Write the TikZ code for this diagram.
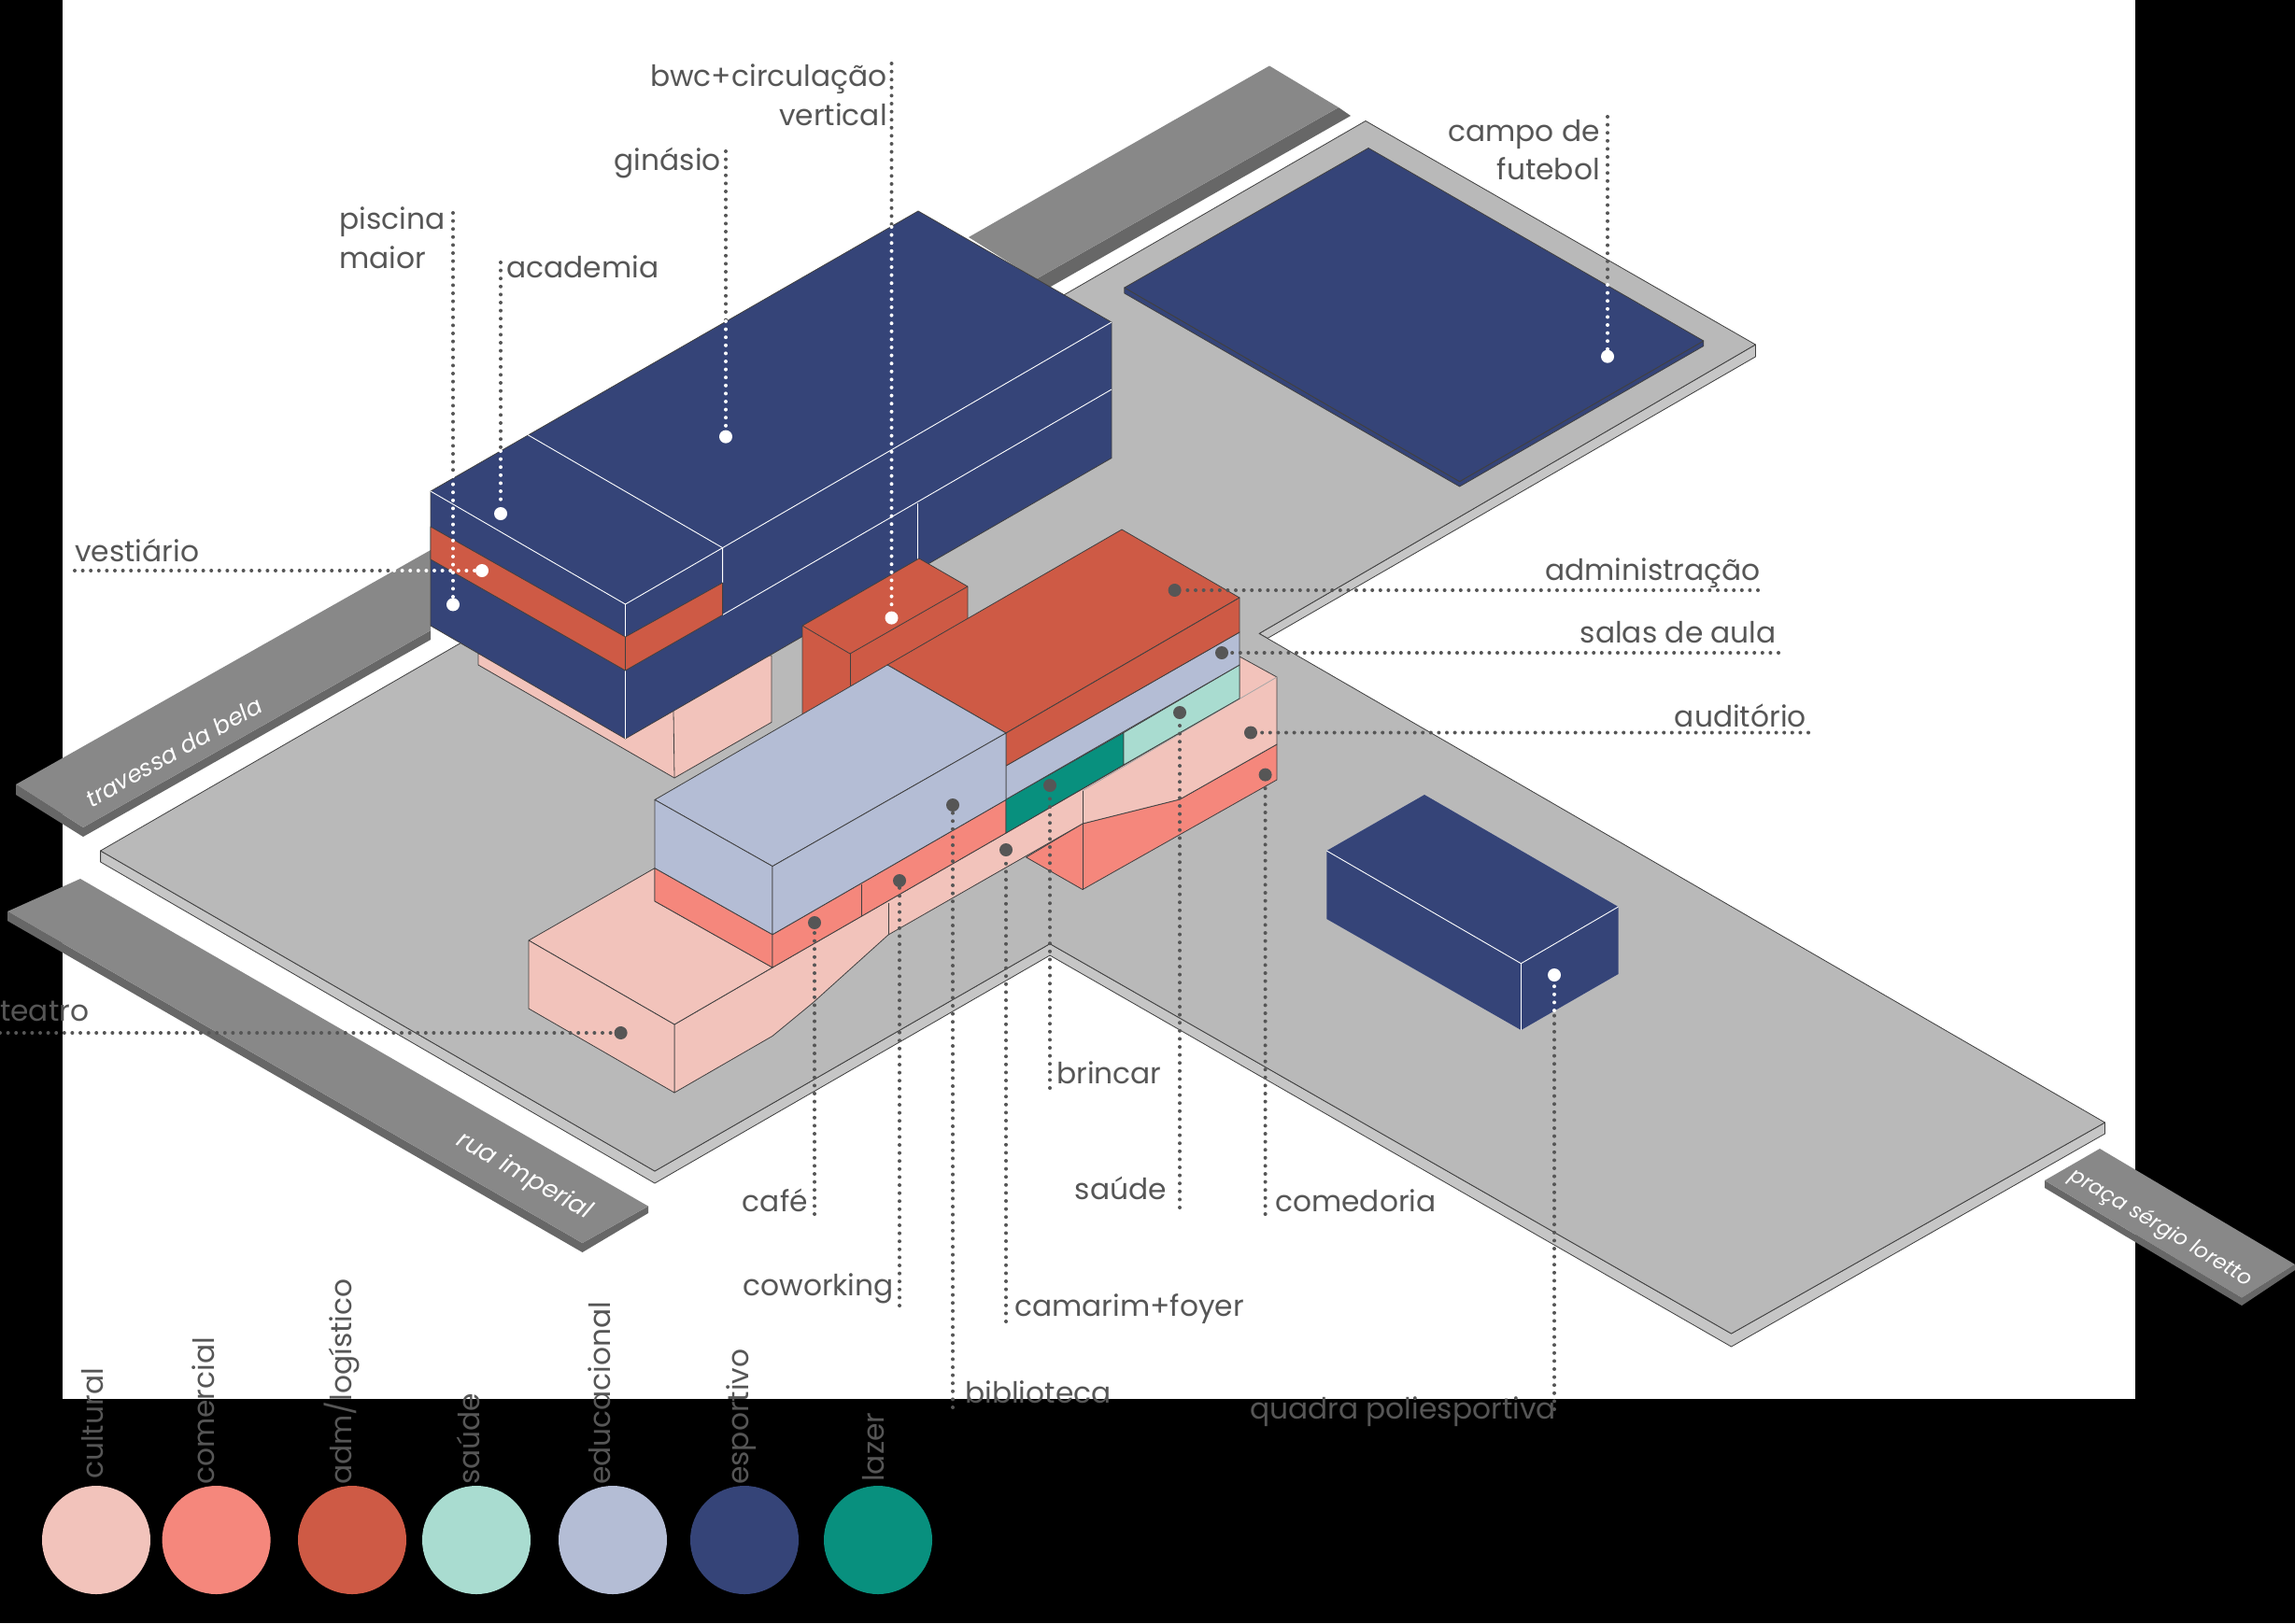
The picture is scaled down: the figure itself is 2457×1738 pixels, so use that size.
\documentclass[tikz,border=0pt]{standalone}
\usepackage{fontspec}
\setmainfont{Poppins}
\usetikzlibrary{positioning,calc}

\definecolor{navy}{HTML}{354478}
\definecolor{tijolo}{HTML}{CE5A45}
\definecolor{salmao}{HTML}{F5877C}
\definecolor{rosa}{HTML}{F2C3BB}
\definecolor{lilas}{HTML}{B4BDD5}
\definecolor{teal}{HTML}{08907E}
\definecolor{menta}{HTML}{A9DCD0}
\definecolor{piso}{HTML}{B9B9B9}
\definecolor{pisolado}{HTML}{C6C6C6}
\definecolor{via}{HTML}{888888}
\definecolor{vialado}{HTML}{676767}
\definecolor{texto}{HTML}{565656}

\begin{document}
\begin{tikzpicture}[
      x=1pt, y=-1pt,
      face/.style={draw=black!75,line width=0.8pt,line join=round},
      fio/.style={white,line width=0.9pt},
      lbl/.style={font=\fontsize{31.3}{38}\selectfont,text=texto,inner sep=0pt,align=left},
      lblr/.style={lbl,align=right},
      rualbl/.style={font=\fontsize{25}{30}\selectfont\itshape,text=white,inner sep=0pt},
      lead/.style={texto,line width=4pt,line cap=round,dash pattern=on 0pt off 8.6pt},
      leadw/.style={lead,white},
      pin/.style={circle,fill=texto,minimum size=14pt,inner sep=0pt},
      pinw/.style={pin,fill=white},
      leg/.style={circle,minimum size=116pt,inner sep=0pt},
    ]
    \useasboundingbox (0,0) rectangle (2457,1738);
    \fill[black] (0,0) rectangle (2457,1738);
    \fill[white] (67,0) rectangle (2286,1498);

    % vias
    \fill[vialado] (17,840) -- (89,886) -- (461,675) -- (461,685) -- (89,896) -- (17,851) -- cycle;
    \fill[via] (17,840) -- (461,589) -- (461,675) -- (89,886) -- cycle;
    \fill[vialado] (1433,115) -- (1446,124) -- (1123,308) -- (1109,299) -- cycle;
    \fill[via] (1037,254) -- (1359,70.5) -- (1433,115) -- (1109,299) -- cycle;
    \fill[vialado] (8,976) -- (623.5,1331) -- (694,1291.6) -- (694,1299) -- (623.5,1341) -- (8,986) -- cycle;
    \fill[via] (86,941) -- (694,1291.6) -- (623.5,1331) -- (8,976) -- cycle;
    \fill[vialado] (2189,1264) -- (2400,1390) -- (2457,1354) -- (2457,1360) -- (2400,1398) -- (2189,1272) -- cycle;
    \fill[via] (2248,1230) -- (2457,1354) -- (2400,1390) -- (2189,1264) -- cycle;
    \node[rualbl,rotate=29.5] (travessa) at (186,805) {travessa da bela};
    \node[rualbl,rotate=-30,font=\fontsize{26.5}{30}\selectfont\itshape] (imperial) at (561,1260) {rua imperial};
    \node[rualbl,rotate=-31,font=\fontsize{22.5}{28}\selectfont\itshape] (praca) at (2313,1315) {praça sérgio loretto};

    % terreno
    \filldraw[face,fill=pisolado] (107.6,911) -- (107.6,923) -- (701,1267) -- (1124,1023) -- (1853.5,1442) -- (2253.5,1214) -- (2253.5,1202) -- (1853.5,1428) -- (1124,1010.6) -- (701,1254) -- cycle;
    \filldraw[face,fill=pisolado] (1879.4,369) -- (1879.4,382) -- (1357,683.5) -- (1348,678.4) -- cycle;
    \filldraw[face,fill=piso] (107.6,911) -- (1462,129.5) -- (1879.4,369) -- (1348,678.4) -- (2253.5,1202) -- (1853.5,1428) -- (1124,1010.6) -- (701,1254) -- cycle;

    % campo de futebol
    \filldraw[face,fill=navy] (1203.8,308) -- (1203.8,314) -- (1562.6,521) -- (1823.8,370.5) -- (1823.8,365) -- (1562.6,515.6) -- cycle;
    \filldraw[face,fill=navy] (1203.8,308) -- (1465,158.5) -- (1823.8,365) -- (1562.6,515.6) -- cycle;

    % quadra
    \fill[navy] (1420.3,911) -- (1525,851) -- (1732.5,971) -- (1732.5,1043) -- (1628.4,1103) -- (1420.3,984) -- cycle;
    \draw[fio] (1420.3,911) -- (1628.4,1031.7) -- (1732.5,971);
    \draw[fio] (1628.4,1031.7) -- (1628.4,1103);

    % bloco esportivo
    \filldraw[face,fill=rosa] (512,700) -- (512,712) -- (722,833) -- (826,773.4) -- (826,702) -- cycle;
    \draw[face] (721,761) -- (722,833);
    \filldraw[face,fill=navy] (461,526) -- (983,226) -- (1190,345) -- (1190,490.5) -- (669.5,791) -- (461,670) -- cycle;
    \draw[fio] (461,526) -- (669.5,647) -- (773.6,586.6) -- (1190,345);
    \draw[fio] (565,465.6) -- (773.6,586.6) -- (773.6,624);
    \draw[fio] (773.6,658.5) -- (1190,417);
    \draw[fio] (669.5,647) -- (669.5,682);
    \draw[fio] (669.5,718) -- (669.5,791);
    \draw[fio] (982,539) -- (982,599);
    \filldraw[face,fill=tijolo] (461,564) -- (669.5,682) -- (773.6,624) -- (773.6,658.5) -- (669.5,718) -- (461,599) -- cycle;
    \draw[face] (669.5,682) -- (669.5,718);

    % torre
    \filldraw[face,fill=tijolo] (859,670) -- (984,598) -- (1036,628) -- (1036,680) -- (859,800) -- cycle;
    \draw[face] (859,670) -- (910,700) -- (1036,628);
    \draw[face] (910,700) -- (910,770);

    % auditorio e teatro
    \filldraw[face,fill=salmao] (1367,797) -- (1367,835) -- (1159,952.5) -- (1098.6,918) -- (1159,882) -- (1263,856) -- cycle;
    \filldraw[face,fill=rosa] (1327,703) -- (1367,725) -- (1367,797) -- (1263,856) -- (1159,882) -- (951,1001) -- (870,1074) -- (827,1109.4) -- (722,1170) -- (722,1097) -- (827,1036) -- (1077,892) -- (1327,748) -- cycle;
    \draw[black!35,line width=0.8pt] (1367,725) -- (1159,846.6);
    \draw[face] (1159,846.6) -- (1159,952.5);
    \draw[face] (951,967) -- (951,1001);
    \filldraw[face,fill=rosa] (566,1007) -- (701,929.6) -- (701,965) -- (827,1036) -- (722,1097) -- cycle;
    \filldraw[face,fill=rosa] (566,1007) -- (722,1097) -- (722,1170) -- (566,1080) -- cycle;

    % faixas
    \filldraw[face,fill=salmao] (701,929.6) -- (827,1000.7) -- (827,1036) -- (701,965) -- cycle;
    \filldraw[face,fill=salmao] (827,1000.7) -- (1077,856.4) -- (1077,892) -- (827,1036) -- cycle;
    \draw[face] (922,947) -- (922,981);
    \filldraw[face,fill=teal] (1077,856) -- (1203,784.5) -- (1203,819) -- (1077,892) -- cycle;
    \filldraw[face,fill=menta] (1203,784.5) -- (1327,712) -- (1327,748) -- (1203,819) -- cycle;
    \filldraw[face,fill=lilas] (1077,820) -- (1327,677) -- (1327,712) -- (1077,856) -- cycle;
    \filldraw[face,fill=tijolo] (950,712) -- (1201,567) -- (1327,640) -- (1077,785) -- cycle;
    \filldraw[face,fill=tijolo] (1077,785) -- (1327,640) -- (1327,677) -- (1077,820) -- cycle;
    \filldraw[face,fill=lilas] (701,856.4) -- (950,712) -- (1077,785) -- (827,927.6) -- cycle;
    \filldraw[face,fill=lilas] (701,856.4) -- (827,927.6) -- (827,1000.7) -- (701,929.6) -- cycle;
    \filldraw[face,fill=lilas] (827,927.6) -- (1077,785) -- (1077,856.4) -- (827,1000.7) -- cycle;

    % pontos
    \node[pinw] (pscn) at (485,647.4) {};
    \node[pinw] (vest) at (516,611) {};
    \node[pinw] (acad) at (536,550) {};
    \node[pinw] (gins) at (777,467.6) {};
    \node[pinw] (bwc) at (954.5,661.6) {};
    \node[pinw] (camp) at (1721,381.7) {};
    \node[pinw] (quad) at (1664,1044) {};
    \node[pin] (teat) at (664.6,1106) {};
    \node[pin] (cafe) at (872,988) {};
    \node[pin] (cowk) at (963,943) {};
    \node[pin] (cama) at (1077,910) {};
    \node[pin] (bibl) at (1020,862) {};
    \node[pin] (brin) at (1124,841) {};
    \node[pin] (saud) at (1263,763) {};
    \node[pin] (audi) at (1339,784.5) {};
    \node[pin] (come) at (1354.6,829.6) {};
    \node[pin] (admn) at (1257.6,632) {};
    \node[pin] (sala) at (1308,699) {};

    % pontas livres
    \coordinate (pscn-e) at (485,228);
    \coordinate (pscn-w) at (485,510);
    \coordinate (vest-e) at (80,611);
    \coordinate (vest-w) at (422,611);
    \coordinate (acad-e) at (536,281);
    \coordinate (acad-w) at (536,483);
    \coordinate (gins-e) at (777,162);
    \coordinate (gins-w) at (777,344);
    \coordinate (bwc-e) at (954.5,68);
    \coordinate (bwc-w) at (954.5,243);
    \coordinate (camp-e) at (1721,125);
    \coordinate (camp-w) at (1721,305);
    \coordinate (quad-e) at (1664,1509);
    \coordinate (quad-w) at (1664,1082);
    \coordinate (teat-e) at (0,1106);
    \coordinate (cafe-e) at (872,1300);
    \coordinate (cowk-e) at (963,1398);
    \coordinate (cama-e) at (1077,1415);
    \coordinate (bibl-e) at (1020,1507);
    \coordinate (brin-e) at (1124,1165);
    \coordinate (saud-e) at (1263,1293);
    \coordinate (audi-e) at (1936,784.5);
    \coordinate (come-e) at (1354.6,1300);
    \coordinate (admn-e) at (1882,632);
    \coordinate (sala-e) at (1904,699);

    \draw[lead] (pscn-e) -- (pscn-w);
    \draw[leadw] (pscn-w) -- (pscn);
    \draw[lead] (vest-e) -- (vest-w);
    \draw[leadw] (vest-w) -- (vest);
    \draw[lead] (acad-e) -- (acad-w);
    \draw[leadw] (acad-w) -- (acad);
    \draw[lead] (gins-e) -- (gins-w);
    \draw[leadw] (gins-w) -- (gins);
    \draw[lead] (bwc-e) -- (bwc-w);
    \draw[leadw] (bwc-w) -- (bwc);
    \draw[lead] (camp-e) -- (camp-w);
    \draw[leadw] (camp-w) -- (camp);
    \draw[lead] (quad-e) -- (quad-w);
    \draw[leadw] (quad-w) -- (quad);
    \draw[lead] (teat-e) -- (teat);
    \draw[lead] (cafe-e) -- (cafe);
    \draw[lead] (cowk-e) -- (cowk);
    \draw[lead] (cama-e) -- (cama);
    \draw[lead] (bibl-e) -- (bibl);
    \draw[lead] (brin-e) -- (brin);
    \draw[lead] (saud-e) -- (saud);
    \draw[lead] (audi-e) -- (audi);
    \draw[lead] (come-e) -- (come);
    \draw[lead] (admn-e) -- (admn);
    \draw[lead] (sala-e) -- (sala);

    % rotulos
    \node[lblr,anchor=mid east] (t-bwc1) at (950,90) {bwc+circulação};
    \node[lblr,anchor=mid east] (t-bwc2) at (950,132) {vertical};
    \node[lblr,anchor=mid east] (t-gins) at (772,180) {ginásio};
    \node[lbl,anchor=mid west] (t-pscn1) at (363,243) {piscina};
    \node[lbl,anchor=mid west] (t-pscn2) at (363,285) {maior};
    \node[lbl,anchor=mid west] (t-acad) at (542,295) {academia};
    \node[lblr,anchor=mid east] (t-camp1) at (1713,149) {campo de};
    \node[lblr,anchor=mid east] (t-camp2) at (1713,190) {futebol};
    \node[lbl,anchor=mid west] (t-vest) at (80,599) {vestiário};
    \node[lblr,anchor=mid east] (t-admn) at (1885,619) {administração};
    \node[lblr,anchor=mid east] (t-sala) at (1902,686) {salas de aula};
    \node[lblr,anchor=mid east] (t-audi) at (1934,776) {auditório};
    \node[lbl,anchor=mid west] (t-teat) at (0,1091) {teatro};
    \node[lbl,anchor=mid west] (t-brin) at (1131,1158) {brincar};
    \node[lblr,anchor=mid east] (t-saud) at (1249,1282) {saúde};
    \node[lbl,anchor=mid west] (t-come) at (1365,1295) {comedoria};
    \node[lblr,anchor=mid east] (t-cafe) at (865,1295) {café};
    \node[lblr,anchor=mid east] (t-cowk) at (957,1385) {coworking};
    \node[lbl,anchor=mid west] (t-cama) at (1086,1407) {camarim+foyer};
    \node[lbl,anchor=mid west] (t-bibl) at (1033,1500) {biblioteca};
    \node[lblr,anchor=mid east] (t-quad) at (1666,1517) {quadra poliesportiva};

    % legenda
    \node[leg,fill=rosa] (c-cult) at (103,1649) {};
    \node[leg,fill=salmao] (c-come) at (231.6,1649) {};
    \node[leg,fill=tijolo] (c-adm) at (377,1649) {};
    \node[leg,fill=menta] (c-saud) at (510,1649) {};
    \node[leg,fill=lilas] (c-educ) at (656,1649) {};
    \node[leg,fill=navy] (c-espo) at (797,1649) {};
    \node[leg,fill=teal] (c-lazr) at (940,1649) {};
    \node[lbl,rotate=90,anchor=mid west] (l-cult) at (108,1584) {cultural};
    \node[lbl,rotate=90,anchor=mid west] (l-come) at (227,1590) {comercial};
    \node[lbl,rotate=90,anchor=mid west] (l-adm) at (374,1590) {adm/logístico};
    \node[lbl,rotate=90,anchor=mid west] (l-saud) at (511,1590) {saúde};
    \node[lbl,rotate=90,anchor=mid west] (l-educ) at (651,1590) {educacional};
    \node[lbl,rotate=90,anchor=mid west] (l-espo) at (799,1590) {esportivo};
    \node[lbl,rotate=90,anchor=mid west] (l-lazr) at (944,1587) {lazer};
  \end{tikzpicture}
\end{document}
